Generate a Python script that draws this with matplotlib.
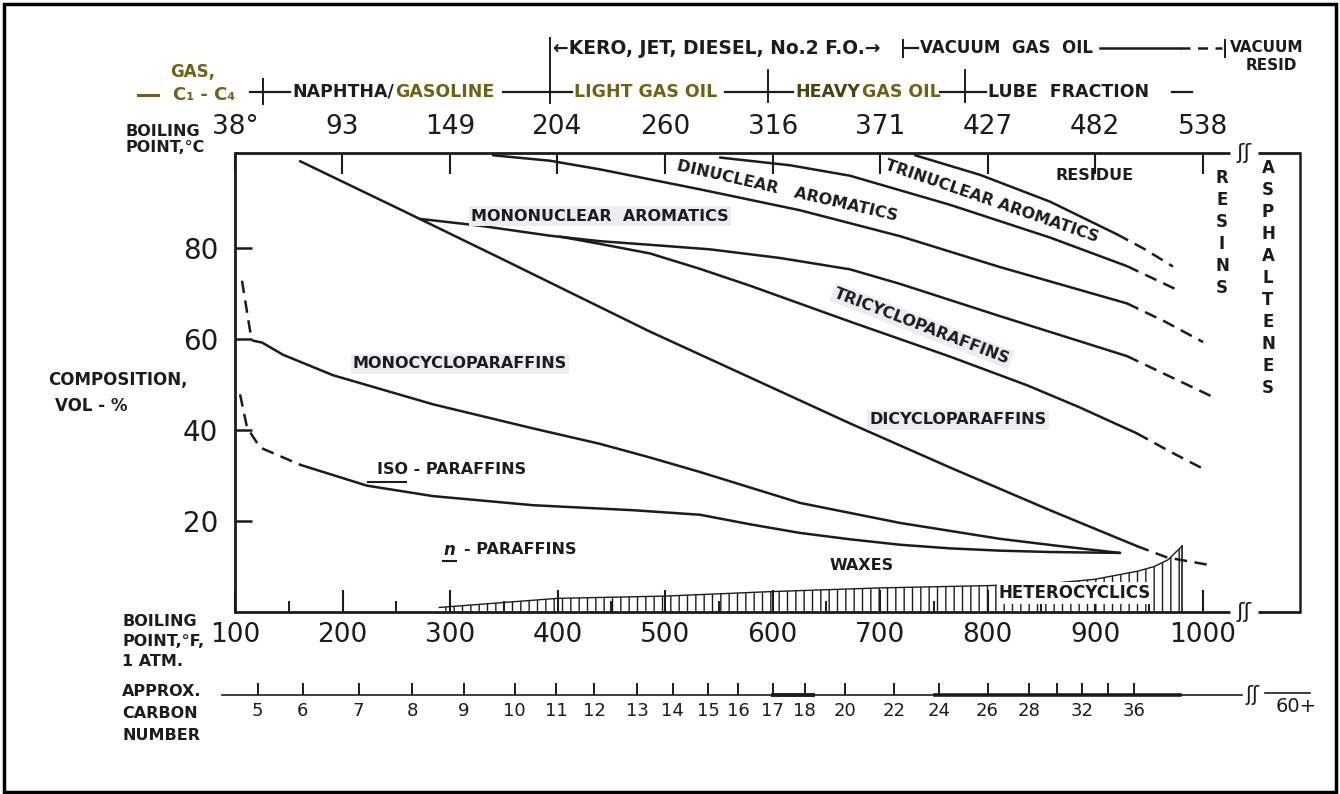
import matplotlib
matplotlib.use('Agg')
import matplotlib.pyplot as plt
from matplotlib.lines import Line2D
from matplotlib.patches import Rectangle

plt.rcParams['font.family'] = ['DejaVu Sans']
plt.rcParams['hatch.linewidth'] = 1.0
plt.rcParams['hatch.color'] = '#2b2b2b'

INK = '#1c1c1c'
OLIVE = '#6f6214'

# ---------------- data: boiling point (deg F) vs cumulative composition (vol-%) ----------------
# n-paraffins / iso-paraffins boundary
iso_low_dash_F = [104.7, 111.2, 123.3, 160.5]
iso_low_dash_pct = [47.9, 40.6, 36.2, 32.4]
iso_low_F = [160.5, 222.8, 284.2, 377.2, 470.2, 532.6, 579.1, 625.6, 672.1, 718.6, 765.1, 811.6, 858.1, 923.3]
iso_low_pct = [32.4, 27.8, 25.5, 23.5, 22.4, 21.4, 19.3, 17.4, 16.0, 14.8, 14.0, 13.5, 13.2, 13.0]

# iso-paraffins / monocycloparaffins boundary
mono_low_dash_F = [106.5, 114.0, 116.7]
mono_low_dash_pct = [72.9, 61.9, 59.7]
mono_low_F = [116.7, 125.1, 144.7, 191.2, 284.2, 377.2, 439.5, 486.0, 532.6, 625.6, 718.6, 811.6, 867.4, 923.3]
mono_low_pct = [59.7, 59.3, 56.6, 52.1, 45.7, 40.4, 37.0, 34.0, 30.8, 24.0, 19.6, 16.1, 14.5, 13.0]

# monocycloparaffins / dicycloparaffins boundary
dicyc_low_F = [160.5, 253.5, 346.5, 486.0, 579.1, 672.1, 765.1, 858.1, 939.0]
dicyc_low_pct = [99.2, 88.6, 77.9, 61.7, 51.6, 41.5, 31.8, 22.4, 14.5]
dicyc_low_dash_F = [939.0, 967.0, 1005.0]
dicyc_low_dash_pct = [14.5, 12.0, 10.4]

# tricycloparaffins (dicycloparaffins) / mononuclear aromatics boundary
monoar_low_F = [272.1, 327.9, 393.0, 439.5, 486.0, 541.9, 607.0, 672.1, 718.6, 811.6, 929.8]
monoar_low_pct = [86.5, 85.0, 82.8, 81.6, 80.8, 79.8, 77.9, 75.4, 72.2, 65.1, 56.3]
monoar_low_dash_F = [929.8, 969.8, 1013.5]
monoar_low_dash_pct = [56.3, 51.8, 46.9]

# dicycloparaffins / tricycloparaffins boundary
tricyc_low_F = [402.3, 439.5, 486.0, 532.6, 579.1, 672.1, 765.1, 836.7, 886.0, 939.0]
tricyc_low_pct = [82.6, 81.0, 78.9, 75.5, 71.8, 63.9, 56.2, 49.9, 45.0, 39.3]
tricyc_low_dash_F = [939.0, 969.8, 1002.3]
tricyc_low_dash_pct = [39.3, 35.3, 31.3]

# mononuclear / dinuclear aromatics boundary
dinuc_low_F = [340.0, 393.0, 439.5, 532.6, 625.6, 718.6, 811.6, 929.8]
dinuc_low_pct = [100.5, 99.3, 97.4, 93.0, 88.4, 82.7, 75.9, 67.9]
dinuc_low_dash_F = [929.8, 965.1, 1000.5]
dinuc_low_dash_pct = [67.9, 63.9, 59.4]

# dinuclear / trinuclear aromatics boundary
trinuc_low_F = [551.2, 616.3, 672.1, 765.1, 858.1, 929.8]
trinuc_low_pct = [100.0, 98.3, 96.0, 89.6, 82.4, 76.1]
trinuc_low_dash_F = [929.8, 976.3]
trinuc_low_dash_pct = [76.1, 70.9]

# trinuclear aromatics / residue boundary
resid_low_F = [732.6, 793.0, 858.1, 920.5]
resid_low_pct = [100.5, 96.2, 90.3, 83.1]
resid_low_dash_F = [920.5, 946.5, 972.6]
resid_low_dash_pct = [83.1, 79.8, 76.0]

# heterocyclics (hatched band at the bottom)
hetero_F = [290, 400, 500, 600, 700, 800, 860, 900, 940, 955, 968, 981]
hetero_pct = [1.0, 3.0, 3.5, 4.5, 5.3, 5.8, 6.3, 7.2, 9.0, 10.0, 11.5, 14.5]

# axes scales
bp_F_ticks = [100, 200, 300, 400, 500, 600, 700, 800, 900, 1000]
bp_F_minor = [150, 250, 350, 450, 550, 650, 750, 850, 950]
bp_C_ticks = [38, 93, 149, 204, 260, 316, 371, 427, 482, 538]
bp_C_labels = ['38°', '93', '149', '204', '260', '316', '371', '427', '482', '538']
comp_ticks = [20, 40, 60, 80]
carbon_bp_F = [121, 163, 215, 265, 313, 360, 399, 434, 474, 507, 540, 568, 600, 630,
               667, 713, 755, 800, 839, 865, 888, 912, 936]
carbon_labels = ['5', '6', '7', '8', '9', '10', '11', '12', '13', '14', '15', '16', '17', '18',
                 '20', '22', '24', '26', '28', '', '32', '', '36']

# ---------------- figure ----------------
W, H = 1340, 794
fig = plt.figure(figsize=(13.4, 7.94), dpi=100)
fig.patch.set_facecolor('white')


def fx(x):
    return x / W


def fy(y):
    return 1 - y / H


X0, X1, Y0, Y1 = 235, 1300, 612, 153
ax = fig.add_axes([fx(X0), fy(Y0), (X1 - X0) / W, (Y0 - Y1) / H])
XMAX = 100 + (X1 - X0) / 1.075
ax.set_xlim(100, XMAX)
ax.set_ylim(0, 101)
ax.set_facecolor('white')

for s in ('top', 'bottom'):
    ax.spines[s].set_visible(False)
ax.spines['left'].set_linewidth(2.0)
ax.spines['right'].set_linewidth(1.8)
ax.spines['left'].set_color(INK)
ax.spines['right'].set_color(INK)

bt = ax.get_xaxis_transform()
BRK0, BRK1 = 1025.6, 1051.6
for yv in (0, 1):
    ax.plot([100, BRK0], [yv, yv], transform=bt, color=INK, lw=2.0, clip_on=False,
            solid_capstyle='butt')
    ax.plot([BRK1, XMAX], [yv, yv], transform=bt, color=INK, lw=2.0, clip_on=False,
            solid_capstyle='butt')
    ax.text((BRK0 + BRK1) / 2, yv, 'ʃʃ', transform=bt, ha='center', va='center',
            fontsize=16, color=INK, clip_on=False)

# ticks
ax.set_xticks(bp_F_ticks)
ax.set_xticklabels([str(v) for v in bp_F_ticks])
ax.set_xticks(bp_F_minor, minor=True)
ax.tick_params(axis='x', which='major', direction='in', length=16, width=1.5,
               labelsize=19, pad=7, colors=INK)
ax.tick_params(axis='x', which='minor', direction='in', length=8, width=1.4, colors=INK)
ax.set_yticks(comp_ticks)
ax.tick_params(axis='y', direction='in', length=12, width=1.8, labelsize=20, pad=12,
               colors=INK)

secx = ax.secondary_xaxis('top', functions=(lambda f: (f - 32) * 5 / 9,
                                            lambda c: c * 9 / 5 + 32))
secx.set_ticks(bp_C_ticks, labels=bp_C_labels)
secx.tick_params(direction='in', length=15, width=1.5, labelsize=19, pad=9, colors=INK)
for s in secx.spines.values():
    s.set_visible(False)

CY = (Y0 - 695) / (Y0 - Y1)
cax = ax.secondary_xaxis(CY)
cax.set_ticks(carbon_bp_F, labels=carbon_labels)
cax.tick_params(direction='in', length=9, width=1.4, labelsize=13, pad=5, colors=INK)
for s in cax.spines.values():
    s.set_visible(False)

# carbon number scale line
ax.plot([88, 1037], [CY, CY], transform=bt, color=INK, lw=1.2, clip_on=False)
ax.plot([600, 638], [CY, CY], transform=bt, color=INK, lw=2.8, clip_on=False)
ax.plot([751, 979], [CY, CY], transform=bt, color=INK, lw=2.6, clip_on=False)
ax.plot([1058, 1100], [CY + 0.005, CY + 0.005], transform=bt, color=INK, lw=1.2, clip_on=False)
ax.text(1046, CY, 'ʃʃ', transform=bt, ha='center', va='center', fontsize=15, color=INK,
        clip_on=False)
fig.text(fx(1296), fy(706), '60+', ha='center', va='center', fontsize=14, color=INK)

# ---------------- curves ----------------
DASH = (0, (5, 3))


def curve(F, P, dashed=False, lw=1.8):
    ax.plot(F, P, color=INK, lw=lw, ls=DASH if dashed else '-', clip_on=False,
            solid_capstyle='round', solid_joinstyle='round')


curve(iso_low_dash_F, iso_low_dash_pct, dashed=True)
curve(iso_low_F, iso_low_pct)
curve(mono_low_dash_F, mono_low_dash_pct, dashed=True)
curve(mono_low_F, mono_low_pct)
curve(dicyc_low_F, dicyc_low_pct)
curve(dicyc_low_dash_F, dicyc_low_dash_pct, dashed=True)
curve(monoar_low_F, monoar_low_pct)
curve(monoar_low_dash_F, monoar_low_dash_pct, dashed=True)
curve(tricyc_low_F, tricyc_low_pct)
curve(tricyc_low_dash_F, tricyc_low_dash_pct, dashed=True)
curve(dinuc_low_F, dinuc_low_pct)
curve(dinuc_low_dash_F, dinuc_low_dash_pct, dashed=True)
curve(trinuc_low_F, trinuc_low_pct)
curve(trinuc_low_dash_F, trinuc_low_dash_pct, dashed=True)
curve(resid_low_F, resid_low_pct)
curve(resid_low_dash_F, resid_low_dash_pct, dashed=True)

ax.fill_between(hetero_F, 0, hetero_pct, facecolor='white', edgecolor=INK, hatch='||',
                linewidth=0, zorder=1.5)
ax.plot(hetero_F, hetero_pct, color=INK, lw=1.0)
ax.plot([hetero_F[-1], hetero_F[-1]], [0, hetero_pct[-1]], color=INK, lw=1.2)


# ---------------- labels ----------------
def lab(x, y, s, size=11.5, rot=0, ha='center', color=INK, bg=None, weight='bold', **kw):
    t = fig.text(fx(x), fy(y), s, fontsize=size, rotation=rot, ha=ha, va='center',
                 color=color, fontweight=weight, rotation_mode='anchor', **kw)
    if bg:
        t.set_bbox(dict(facecolor=bg, edgecolor='none', pad=1.5))
    return t


def fline(xs, ys, lw=1.6, color=INK, ls='-'):
    fig.add_artist(Line2D([fx(x) for x in xs], [fy(y) for y in ys], lw=lw, color=color,
                          ls=ls, transform=fig.transFigure))


HL = '#ececf3'
lab(600, 216, 'MONONUCLEAR  AROMATICS', bg=HL)
lab(787, 191, 'DINUCLEAR   AROMATICS', rot=-13)
lab(992, 201, 'TRINUCLEAR AROMATICS', rot=-19)
lab(1095, 175, 'RESIDUE')
lab(922, 326, 'TRICYCLOPARAFFINS', rot=-21, bg=HL)
lab(958, 420, 'DICYCLOPARAFFINS', bg=HL)
lab(460, 364, 'MONOCYCLOPARAFFINS', bg=HL)
lab(452, 470, 'ISO - PARAFFINS')
fline([368, 406], [482, 482], lw=1.5)
fig.text(fx(449), fy(550), 'n', fontsize=12, style='italic', fontweight='bold',
         ha='center', va='center', color=INK)
lab(520, 550, '- PARAFFINS')
fline([443, 456], [561, 561], lw=1.5)
lab(862, 565, 'WAXES')
lab(1075, 593, 'HETEROCYCLICS', size=12, bg='white')
lab(1222, 233, 'R\nE\nS\nI\nN\nS', size=12, linespacing=1.28)
lab(1268, 278, 'A\nS\nP\nH\nA\nL\nT\nE\nN\nE\nS', size=12, linespacing=1.28)

# axis captions
lab(125, 131, 'BOILING', ha='left')
lab(125, 148, 'POINT,°C', ha='left')
lab(48, 380, 'COMPOSITION,', ha='left', size=12)
lab(55, 406, 'VOL - %', ha='left', size=12)
lab(122, 622, 'BOILING', ha='left')
lab(122, 641, 'POINT,°F,', ha='left')
lab(122, 661, '1 ATM.', ha='left')
lab(122, 692, 'APPROX.', ha='left')
lab(122, 714, 'CARBON', ha='left')
lab(122, 736, 'NUMBER', ha='left')

# ---------------- product-cut header ----------------
RS = 12.5
# row 1
fline([550, 550], [38, 103], lw=1.4)
lab(553, 48, '←KERO, JET, DIESEL, No.2 F.O.→', ha='left', size=13.5)
fline([903, 903], [40, 57], lw=1.4)
fline([905, 918], [48, 48], lw=1.6)
lab(920, 48, 'VACUUM  GAS  OIL', ha='left', size=12)
fline([1100, 1180], [48, 48], lw=1.8)
fline([1180, 1222], [48, 48], lw=1.8, ls=(0, (4, 3)))
fline([1225, 1225], [40, 57], lw=1.4)
lab(1267, 47, 'VACUUM', size=11)
lab(1271, 66, 'RESID', size=11)
# row 2
lab(193, 72, 'GAS,', size=12, color=OLIVE)
fline([138, 158], [95, 95], lw=2.2, color=OLIVE)
lab(204, 95, 'C₁ - C₄', size=13, color=OLIVE)
fline([250, 290], [92, 92], lw=1.6)
fline([263, 263], [79, 104], lw=1.4)
lab(292, 92, 'NAPHTHA/', ha='left', size=RS)
lab(395, 92, 'GASOLINE', ha='left', size=RS, color=OLIVE)
fline([503, 572], [92, 92], lw=1.6)
lab(574, 92, 'LIGHT GAS OIL', ha='left', size=RS, color=OLIVE)
fline([725, 793], [92, 92], lw=1.6)
fline([768, 768], [70, 102], lw=1.4)
lab(795, 92, 'HEAVY', ha='left', size=RS, color='#4a4210')
lab(862, 92, 'GAS OIL', ha='left', size=RS, color=OLIVE)
fline([940, 986], [92, 92], lw=1.6)
fline([965, 965], [70, 102], lw=1.4)
lab(988, 92, 'LUBE  FRACTION', ha='left', size=RS)
fline([1172, 1192], [92, 92], lw=1.6)

# outer border
fig.add_artist(Rectangle((fx(4), fy(792)), fx(1336) - fx(4), fy(4) - fy(792), fill=False,
                         lw=2.5, edgecolor='black', transform=fig.transFigure))

fig.savefig('out.png', dpi=100, facecolor='white')
